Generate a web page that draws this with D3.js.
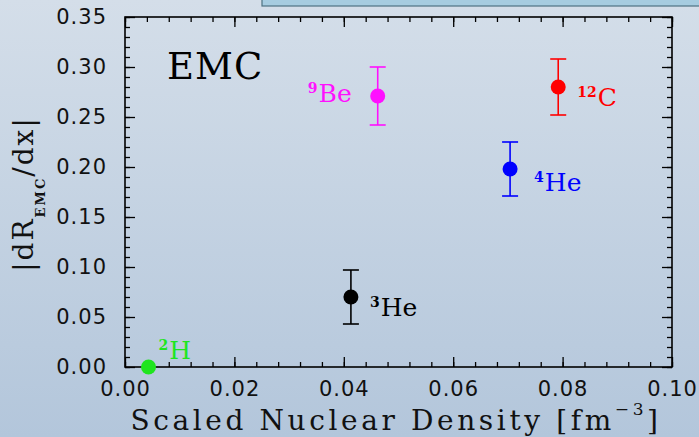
<!DOCTYPE html>
<html>
<head>
<meta charset="utf-8">
<script src="https://cdn.jsdelivr.net/npm/d3@7"></script>
<style>
  html, body { margin: 0; padding: 0; overflow: hidden; }
  svg { display: block; }
</style>
</head>
<body>
<div id="canvas"></div>
<script>
// data
var massNumbers = ["2", "3", "9", "12", "4"];
var symbols = ["H", "He", "Be", "C", "He"];
var density = [0.0043, 0.0413, 0.0462, 0.0792, 0.0704];
var slope = [0.000, 0.070, 0.271, 0.280, 0.198];
var slopeErr = [0.000, 0.027, 0.029, 0.028, 0.027];
var xTicks = [0.00, 0.02, 0.04, 0.06, 0.08, 0.10];
var yTicks = [0.00, 0.05, 0.10, 0.15, 0.20, 0.25, 0.30, 0.35];

// styling
var colors = ["#1fe51f", "#000000", "#ff10ff", "#ff0000", "#0000ff"];
var labelDx = [10, 19, -26, 19, 24];
var labelDy = [-8, 19, 6, 19, 22];
var labelAnchor = ["start", "start", "end", "start", "start"];

var W = 699, H = 437;
var margin = { top: 17, right: 27, bottom: 70, left: 125 },
  width = W - margin.left - margin.right,
  height = H - margin.top - margin.bottom;

var svg = d3.select("#canvas")
  .append("svg")
  .attr("width", W)
  .attr("height", H);

// slide background
var grad = svg.append("defs").append("linearGradient")
  .attr("id", "bg").attr("x1", 0).attr("y1", 0).attr("x2", 0).attr("y2", 1);
grad.append("stop").attr("offset", "0%").attr("stop-color", "#d4dee9");
grad.append("stop").attr("offset", "100%").attr("stop-color", "#b3c6db");
svg.append("rect").attr("width", W).attr("height", H).attr("fill", "url(#bg)");

// box cut off at the top edge
svg.append("rect")
  .attr("x", 262).attr("y", -10).attr("width", 460).attr("height", 16)
  .attr("fill", "#a6cce0").attr("stroke", "#4f7282").attr("stroke-width", 1.2);

var g = svg.append("g")
  .attr("transform", "translate(" + margin.left + "," + margin.top + ")");

var x = d3.scaleLinear().domain([0, 0.1]).range([0, width]);
var y = d3.scaleLinear().domain([0, 0.35]).range([height, 0]);

var xMinor = d3.range(0, 0.1001, 0.004);
var yMinor = d3.range(0, 0.3501, 0.01);

function styleAxis(sel) {
  sel.select(".domain").remove();
  sel.selectAll("line").attr("stroke", "#000").attr("stroke-width", 1.3);
  sel.selectAll("text")
    .attr("fill", "#111")
    .style("font-family", "DejaVu Sans")
    .style("font-size", "21px")
    .style("letter-spacing", "1px");
}

// minor ticks, all four sides
g.append("g").attr("transform", "translate(0," + height + ")")
  .call(d3.axisBottom(x).tickValues(xMinor).tickSize(-5).tickFormat("")).call(styleAxis);
g.append("g")
  .call(d3.axisTop(x).tickValues(xMinor).tickSize(-5).tickFormat("")).call(styleAxis);
g.append("g")
  .call(d3.axisLeft(y).tickValues(yMinor).tickSize(-5).tickFormat("")).call(styleAxis);
g.append("g").attr("transform", "translate(" + width + ",0)")
  .call(d3.axisRight(y).tickValues(yMinor).tickSize(-5).tickFormat("")).call(styleAxis);

// major ticks with labels
g.append("g").attr("transform", "translate(0," + height + ")")
  .call(d3.axisBottom(x).tickValues(xTicks).tickSize(-10).tickPadding(14).tickFormat(d3.format(".2f")))
  .call(styleAxis);
g.append("g")
  .call(d3.axisTop(x).tickValues(xTicks).tickSize(-10).tickFormat("")).call(styleAxis);
g.append("g")
  .call(d3.axisLeft(y).tickValues(yTicks).tickSize(-10).tickPadding(18).tickFormat(d3.format(".2f")))
  .call(styleAxis);
g.append("g").attr("transform", "translate(" + width + ",0)")
  .call(d3.axisRight(y).tickValues(yTicks).tickSize(-10).tickFormat("")).call(styleAxis);

// frame
g.append("rect")
  .attr("width", width).attr("height", height)
  .attr("fill", "none").attr("stroke", "#000").attr("stroke-width", 1.6);

// EMC title
g.append("text")
  .attr("x", 42).attr("y", 62)
  .style("font-family", "DejaVu Serif")
  .style("font-size", "37px")
  .style("letter-spacing", "1px")
  .attr("fill", "#000")
  .text("EMC");

// points with error bars
var pts = g.selectAll(".pt").data(density).enter().append("g").attr("class", "pt");
var cap = 8;
pts.each(function(d, i) {
  if (slopeErr[i] <= 0) return;
  var sel = d3.select(this);
  var cx = x(d), lo = y(slope[i] - slopeErr[i]), hi = y(slope[i] + slopeErr[i]);
  sel.append("line").attr("x1", cx).attr("x2", cx).attr("y1", lo).attr("y2", hi);
  sel.append("line").attr("x1", cx - cap).attr("x2", cx + cap).attr("y1", lo).attr("y2", lo);
  sel.append("line").attr("x1", cx - cap).attr("x2", cx + cap).attr("y1", hi).attr("y2", hi);
  sel.selectAll("line").attr("stroke", colors[i]).attr("stroke-width", 1.6);
});
pts.append("circle")
  .attr("cx", function(d) { return x(d); })
  .attr("cy", function(d, i) { return y(slope[i]); })
  .attr("r", 7.5)
  .attr("fill", function(d, i) { return colors[i]; });

// nucleus labels
var labels = pts.append("text")
  .attr("x", function(d, i) { return x(d) + labelDx[i]; })
  .attr("y", function(d, i) { return y(slope[i]) + labelDy[i]; })
  .attr("text-anchor", function(d, i) { return labelAnchor[i]; })
  .attr("fill", function(d, i) { return colors[i]; })
  .style("font-family", "DejaVu Serif")
  .style("font-size", "25px");
labels.append("tspan")
  .attr("dy", -9)
  .style("font-size", "14px")
  .style("font-weight", "bold")
  .text(function(d, i) { return massNumbers[i]; });
labels.append("tspan")
  .attr("dy", 9)
  .attr("dx", 1)
  .text(function(d, i) { return symbols[i]; });

// axis titles
var xl = svg.append("text")
  .attr("x", 396).attr("y", 430)
  .attr("text-anchor", "middle")
  .attr("fill", "#111")
  .style("font-family", "DejaVu Serif")
  .style("font-size", "28px")
  .style("letter-spacing", "3.6px");
xl.append("tspan").text("Scaled Nuclear Density [fm");
xl.append("tspan").attr("dy", -15).style("font-size", "17px").text("\u22123");
xl.append("tspan").attr("dy", 15).text("]");

var yl = svg.append("text")
  .attr("transform", "translate(33,194) rotate(-90)")
  .attr("text-anchor", "middle")
  .attr("fill", "#111")
  .style("font-family", "DejaVu Serif")
  .style("font-size", "28px")
  .style("letter-spacing", "2px");
yl.append("tspan").text("|dR");
yl.append("tspan").attr("dy", 12).style("font-size", "13px").style("font-weight", "bold").text("EMC");
yl.append("tspan").attr("dy", -12).text("/dx|");
</script>
</body>
</html>
